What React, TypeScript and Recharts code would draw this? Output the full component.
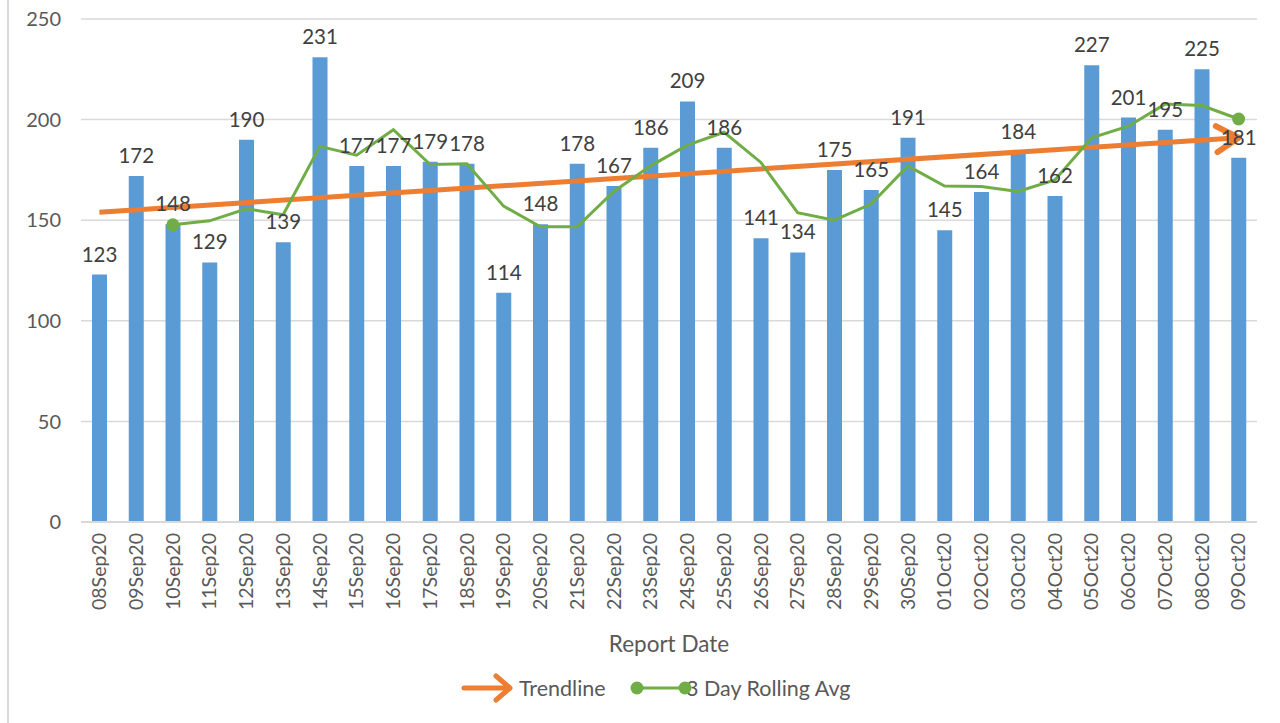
import { ComposedChart, Bar, Line, XAxis, YAxis, CartesianGrid, LabelList } from 'recharts';

const dates = [
  '08Sep20', '09Sep20', '10Sep20', '11Sep20', '12Sep20', '13Sep20', '14Sep20', '15Sep20',
  '16Sep20', '17Sep20', '18Sep20', '19Sep20', '20Sep20', '21Sep20', '22Sep20', '23Sep20',
  '24Sep20', '25Sep20', '26Sep20', '27Sep20', '28Sep20', '29Sep20', '30Sep20', '01Oct20',
  '02Oct20', '03Oct20', '04Oct20', '05Oct20', '06Oct20', '07Oct20', '08Oct20', '09Oct20',
];

const dailyCounts = [
  123, 172, 148, 129, 190, 139, 231, 177, 177, 179, 178, 114, 148, 178, 167, 186,
  209, 186, 141, 134, 175, 165, 191, 145, 164, 184, 162, 227, 201, 195, 225, 181,
];

const rollingAvg = [
  null, null, 147.7, 149.7, 155.7, 152.7, 186.7, 182.3, 195, 177.7, 178, 157, 146.7, 146.7, 164.3, 177,
  187.3, 193.7, 178.7, 153.7, 150, 158, 177, 167, 166.7, 164.3, 170, 191, 196.7, 207.7, 207, 200.3,
];

const trendline = [
  154, null, null, null, null, null, null, null, null, null, null, null, null, null, null, null,
  null, null, null, null, null, null, null, null, null, null, null, null, null, null, null, 191,
];

const yTicks = [0, 50, 100, 150, 200, 250];

const data = dates.map((d, i) => ({
  date: d,
  count: dailyCounts[i],
  avg: rollingAvg[i],
  trend: trendline[i],
}));

const FONT = 'Lato, "Open Sans", sans-serif';
const BLUE = '#5b9bd5';
const ORANGE = '#ed7d31';
const GREEN = '#70ad47';

function DateTick(props: any) {
  const { x, y, payload } = props;
  return (
    <g transform={`translate(${x},${y})`}>
      <text transform="rotate(-90)" textAnchor="end" dy="0.35em" fill="#595959" fontSize={19.5} fontFamily={FONT}>
        {payload.value}
      </text>
    </g>
  );
}

function AvgDot(props: any) {
  const { cx, cy, index } = props;
  if (index !== 2 && index !== dates.length - 1) return <g key={`d-${index}`} />;
  return <circle key={`d-${index}`} cx={cx} cy={cy} r={6.5} fill={GREEN} />;
}

export default function App() {
  return (
    <div style={{ position: 'absolute', left: 0, top: 0, width: 1280, height: 723, background: '#fff', fontFamily: FONT }}>
      <div style={{ position: 'absolute', left: 7, top: 0, width: 2, height: 723, background: '#d9d9d9' }} />
      <ComposedChart
        width={1280}
        height={723}
        data={data}
        margin={{ top: 19, right: 23, left: 0, bottom: 51 }}
        barCategoryGap={11}
      >
        <defs>
          <marker
            id="trendArrow"
            markerUnits="userSpaceOnUse"
            markerWidth={40}
            markerHeight={40}
            viewBox="0 0 40 40"
            refX={30}
            refY={20}
            orient="auto"
          >
            <path d="M 8 7 L 30 20 L 8 33" fill="none" stroke={ORANGE} strokeWidth={6} strokeLinecap="round" strokeLinejoin="round" />
          </marker>
        </defs>
        <CartesianGrid vertical={false} stroke="#d9d9d9" strokeWidth={1.5} />
        <XAxis
          dataKey="date"
          height={150}
          interval={0}
          tick={<DateTick />}
          tickLine={false}
          tickSize={0}
          tickMargin={11}
          axisLine={{ stroke: '#d9d9d9', strokeWidth: 2 }}
          label={{ value: 'Report Date', position: 'insideBottom', offset: 20, fill: '#595959', fontSize: 22.5, fontFamily: FONT }}
        />
        <YAxis
          width={81}
          domain={[0, 250]}
          ticks={yTicks}
          tickLine={false}
          axisLine={false}
          tickSize={0}
          tickMargin={20}
          tick={{ fill: '#595959', fontSize: 20, fontFamily: FONT }}
        />
        <Bar dataKey="count" fill={BLUE} barSize={15} isAnimationActive={false}>
          <LabelList dataKey="count" position="top" offset={13} fill="#404040" fontSize={20.5} fontFamily={FONT} />
        </Bar>
        <Line
          dataKey="trend"
          stroke={ORANGE}
          strokeWidth={5}
          connectNulls
          dot={false}
          markerEnd="url(#trendArrow)"
          isAnimationActive={false}
        />
        <Line
          dataKey="avg"
          stroke={GREEN}
          strokeWidth={3}
          type="linear"
          dot={<AvgDot />}
          isAnimationActive={false}
        />
      </ComposedChart>
      <svg width={1280} height={34} style={{ position: 'absolute', left: 0, top: 671 }}>
        <line x1={464} y1={17} x2={508} y2={17} stroke={ORANGE} strokeWidth={5} strokeLinecap="round" />
        <path d="M 496 5 L 510 17 L 496 29" fill="none" stroke={ORANGE} strokeWidth={5} strokeLinecap="round" strokeLinejoin="round" />
        <text x={519} y={17} dy="0.35em" fill="#595959" fontSize={21.5} fontFamily={FONT}>Trendline</text>
        <line x1={637} y1={17} x2={685} y2={17} stroke={GREEN} strokeWidth={3} />
        <text x={686} y={17} dy="0.35em" fill="#595959" fontSize={21.5} fontFamily={FONT}>3 Day Rolling Avg</text>
        <circle cx={637} cy={17} r={6.5} fill={GREEN} />
        <circle cx={685} cy={17} r={6.5} fill={GREEN} />
      </svg>
    </div>
  );
}
